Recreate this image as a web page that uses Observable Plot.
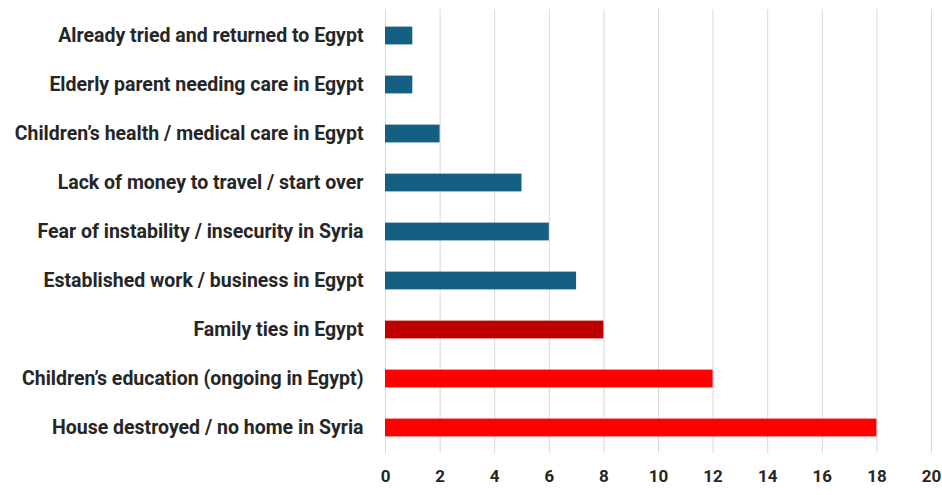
<!DOCTYPE html>
<html>
<head>
<meta charset="utf-8">
<script src="https://cdn.jsdelivr.net/npm/d3@7"></script>
<script src="https://cdn.jsdelivr.net/npm/@observablehq/plot@0.6"></script>
<style>
  html, body { margin: 0; padding: 0; background: #ffffff; }
  #chart svg { display: block; }
</style>
</head>
<body>
<div id="chart"></div>
<script>
const categories = [
  "Already tried and returned to Egypt",
  "Elderly parent needing care in Egypt",
  "Children’s health / medical care in Egypt",
  "Lack of money to travel / start over",
  "Fear of instability / insecurity in Syria",
  "Established work / business in Egypt",
  "Family ties in Egypt",
  "Children’s education (ongoing in Egypt)",
  "House destroyed / no home in Syria"
];
const values = [1, 1, 2, 5, 6, 7, 8, 12, 18];
const groups = ["other", "other", "other", "other", "other", "other", "family", "top", "top"];
const xTicks = [0, 2, 4, 6, 8, 10, 12, 14, 16, 18, 20];

const data = categories.map((c, i) => ({ reason: c, count: values[i], group: groups[i] }));

const chart = Plot.plot({
  width: 942,
  height: 495,
  marginTop: 9,
  marginBottom: 42,
  marginLeft: 385,
  marginRight: 11,
  style: { fontFamily: "Roboto, sans-serif", color: "#262626", background: "#fff" },
  x: { domain: [0, 20], ticks: xTicks, label: null },
  y: { domain: categories, padding: 0, label: null },
  color: { domain: ["other", "family", "top"], range: ["#156082", "#C00000", "#FF0000"] },
  marks: [
    Plot.ruleX(xTicks, { stroke: "#d9d9d9", strokeWidth: 1 }),
    Plot.barX(data, { y: "reason", x: "count", fill: "group", insetTop: 15.6, insetBottom: 15.6 }),
    Plot.axisX({ ticks: xTicks, tickSize: 0, tickPadding: 16, fontSize: 17, fontWeight: "bold", label: null }),
    Plot.axisY({ tickSize: 0, tickPadding: 22, fontSize: 19.5, fontWeight: "bold", label: null })
  ]
});
document.getElementById("chart").appendChild(chart);
</script>
</body>
</html>
